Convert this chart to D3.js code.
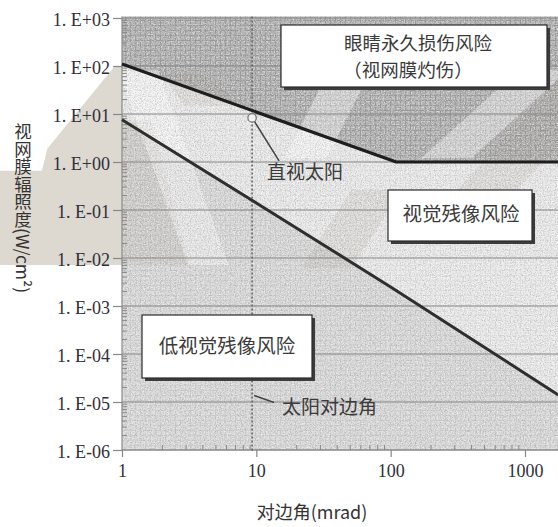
<!DOCTYPE html>
<html><head><meta charset="utf-8">
<script src="https://cdn.jsdelivr.net/npm/d3@7"></script>
<style>
html,body{margin:0;padding:0;background:#fff;}
svg{display:block;}
</style></head><body>
<svg id="chart" width="558" height="527"></svg>
<script>
// ---- axis ticks ----
const xTickValues = [1, 10, 100, 1000];
const xTickLabels = ["1", "10", "100", "1000"];
const yTickValues = [1e3, 1e2, 1e1, 1e0, 1e-1, 1e-2, 1e-3, 1e-4, 1e-5, 1e-6];
const yTickLabels = ["1. E+03", "1. E+02", "1. E+01", "1. E+00", "1. E-01",
                     "1. E-02", "1. E-03", "1. E-04", "1. E-05", "1. E-06"];

// ---- boundary curves: subtended angle (mrad) -> retinal irradiance (W/cm²) ----
const burnAngle = [1, 110, 1770];
const burnIrradiance = [110, 1, 1];
const afterimageAngle = [1, 10, 100, 1770];
const afterimageIrradiance = [7.6, 0.14, 0.0025, 1.4e-5];

// ---- the sun ----
const sunAngle = 9.3;
const sunIrradiance = 8.3;

// ---- region captions ----
const zoneTitles = ["眼睛永久损伤风险", "（视网膜灼伤）", "视觉残像风险", "低视觉残像风险"];
const noteTitles = ["直视太阳", "太阳对边角"];

const W = 558, H = 527;
const svg = d3.select("#chart");
const CJK = '"Noto Sans CJK SC","Noto Sans CJK JP",sans-serif';
const SERIF = '"Liberation Serif","DejaVu Serif",serif';

const x = d3.scaleLog().domain([1, 1000]).range([122, 525]);
const y = d3.scaleLog().domain([1e-6, 1e3]).range([450, 18]);
const xMin = 1, xMax = x.invert(W);
const yMin = 1e-6, yMax = 1e3;
const plotL = x(xMin), plotR = W, plotT = y(yMax) - 1.5, plotB = y(yMin);

const burn = burnAngle.map((a, i) => [a, burnIrradiance[i]]);
const after = afterimageAngle.map((a, i) => [a, afterimageIrradiance[i]]);
const P = d => [x(d[0]), y(d[1])];

// ---- defs: clip, textures ----
const defs = svg.append("defs");
defs.append("clipPath").attr("id", "plotClip")
  .append("rect").attr("x", plotL).attr("y", plotT).attr("width", plotR - plotL).attr("height", plotB - plotT);

const grid = defs.append("pattern").attr("id", "mesh").attr("width", 5).attr("height", 5)
  .attr("patternUnits", "userSpaceOnUse");
grid.append("path").attr("d", "M0 0.5H5M0.5 0V5").attr("stroke", "#7a7a7a").attr("stroke-width", 1).attr("fill", "none");

const fDark = defs.append("filter").attr("id", "grainDark").attr("x", 0).attr("y", 0).attr("width", 1).attr("height", 1);
fDark.append("feTurbulence").attr("type", "fractalNoise").attr("baseFrequency", 0.85).attr("numOctaves", 2).attr("seed", 4);
fDark.append("feColorMatrix").attr("type", "matrix")
  .attr("values", "0 0 0 0 0.25  0 0 0 0 0.25  0 0 0 0 0.25  0 0 0 -3 1.75");
const fLight = defs.append("filter").attr("id", "grainLight").attr("x", 0).attr("y", 0).attr("width", 1).attr("height", 1);
fLight.append("feTurbulence").attr("type", "fractalNoise").attr("baseFrequency", 0.7).attr("numOctaves", 2).attr("seed", 11);
fLight.append("feColorMatrix").attr("type", "matrix")
  .attr("values", "0 0 0 0 1  0 0 0 0 1  0 0 0 0 1  0 0 0 -3 1.7");

// ---- faint logo stamp behind the chart (fractions of the canvas) ----
const stampTan = [
  [[0.206, 0.125], [0.219, 0.125], [0.219, 0.503], [0, 0.503], [0, 0.324], [0.075, 0.324], [0.085, 0.282]]
];
const lineToPx = pts => pts.map(p => [p[0] * W, p[1] * H]);
svg.append("g").selectAll("path").data(stampTan).join("path")
  .attr("d", d => d3.line()(lineToPx(d)) + "Z").attr("fill", "#ddd8d0");

// ---- zones ----
const lineGen = d3.line().x(d => x(d[0])).y(d => y(d[1]));
const zones = svg.append("g").attr("clip-path", "url(#plotClip)");
const topZone = [[xMin, yMax * 2], [xMax, yMax * 2], ...burn.slice().reverse()];
const midZone = [...burn, ...after.slice().reverse()];
const lowZone = [...after, [xMax, yMin], [xMin, yMin]];
zones.append("path").attr("d", lineGen(topZone) + "Z").attr("fill", "#b3b3b3");
zones.append("path").attr("d", lineGen(midZone) + "Z").attr("fill", "#ececec");
zones.append("path").attr("d", lineGen(lowZone) + "Z").attr("fill", "#dadada");
zones.append("path").attr("d", lineGen(topZone) + "Z").attr("fill", "url(#mesh)").attr("opacity", 0.45);
zones.append("path").attr("d", lineGen(midZone) + "Z").attr("fill", "url(#mesh)").attr("opacity", 0.08);
zones.append("path").attr("d", lineGen(lowZone) + "Z").attr("fill", "url(#mesh)").attr("opacity", 0.12);

// stamp bands inside the plot (fractions of the canvas)
const stampShade = [
  [[0.219, 0.228], [0.27, 0.228], [0.34, 0.503], [0.219, 0.503]],
  [[0.29, 0.14], [0.36, 0.14], [0.44, 0.2], [0.33, 0.2]],
  [[0.54, 0.509], [0.63, 0.509], [0.72, 0.36], [0.63, 0.36]],
  [[0.75, 0.44], [0.85, 0.44], [1, 0.28], [1, 0.15]]
];
const stampLight = [
  [[0.212, 0.133], [0.283, 0.133], [0.41, 0.503], [0.337, 0.503]],
  [[0.51, 0.3], [0.585, 0.3], [0.665, 0.133], [0.59, 0.133]],
  [[0.755, 0.3], [0.845, 0.3], [1, 0.15], [1, 0.133], [0.93, 0.133]]
];
zones.append("g").selectAll("path").data(stampShade).join("path")
  .attr("d", d => d3.line()(lineToPx(d)) + "Z").attr("fill", "#9c8e7c").attr("opacity", 0.16);
zones.append("g").selectAll("path").data(stampLight).join("path")
  .attr("d", d => d3.line()(lineToPx(d)) + "Z").attr("fill", "#ffffff").attr("opacity", 0.42);

// grain
zones.append("rect").attr("x", plotL).attr("y", plotT).attr("width", plotR - plotL).attr("height", plotB - plotT)
  .attr("filter", "url(#grainDark)").attr("opacity", 0.35);
zones.append("rect").attr("x", plotL).attr("y", plotT).attr("width", plotR - plotL).attr("height", plotB - plotT)
  .attr("filter", "url(#grainLight)").attr("opacity", 0.5);

// ---- gridlines ----
svg.append("g").selectAll("line").data(yTickValues).join("line")
  .attr("x1", plotL).attr("x2", plotR).attr("y1", d => y(d)).attr("y2", d => y(d))
  .attr("stroke", "#858585").attr("stroke-width", 1.2);

// ---- axes ----
const yAxis = d3.axisLeft(y).tickValues(yTickValues).tickFormat((d, i) => yTickLabels[i]).tickSize(9).tickPadding(3);
const gy = svg.append("g").attr("transform", `translate(${plotL},0)`).call(yAxis);
gy.select(".domain").attr("stroke", "#8a8a8a").attr("stroke-width", 1.2).attr("d", `M0,${plotT}V${plotB}`);
gy.selectAll(".tick line").attr("stroke", "#888").attr("stroke-width", 1.2);
gy.selectAll(".tick text").attr("font-family", SERIF).attr("font-size", 18).attr("fill", "#2f2f3a")
  .attr("dy", "0.42em");

const yMinor = [];
for (let e = -6; e < 3; e++) for (let k = 2; k < 10; k++) yMinor.push(k * Math.pow(10, e));
svg.append("g").selectAll("line").data(yMinor).join("line")
  .attr("x1", plotL).attr("x2", plotL + 5).attr("y1", d => y(d)).attr("y2", d => y(d))
  .attr("stroke", "#8a8a8a").attr("stroke-width", 1);

const xAxis = d3.axisBottom(x).tickValues(xTickValues).tickFormat((d, i) => xTickLabels[i]).tickSize(7).tickPadding(7);
const gx = svg.append("g").attr("transform", `translate(0,${plotB})`).call(xAxis);
gx.select(".domain").attr("stroke", "#8a8a8a").attr("stroke-width", 1.2).attr("d", `M${plotL},0H${plotR}`);
gx.selectAll(".tick line").attr("stroke", "#888").attr("stroke-width", 1.2);
gx.selectAll(".tick text").attr("font-family", SERIF).attr("font-size", 18).attr("fill", "#2f2f3a");

const xMinor = [];
for (let e = 0; e < 4; e++) for (let k = 2; k < 10; k++) { const v = k * Math.pow(10, e); if (v < xMax) xMinor.push(v); }
svg.append("g").selectAll("line").data(xMinor).join("line")
  .attr("x1", d => x(d)).attr("x2", d => x(d)).attr("y1", plotB).attr("y2", plotB - 5)
  .attr("stroke", "#8a8a8a").attr("stroke-width", 1);

// ---- sun angle marker ----
svg.append("line").attr("x1", x(sunAngle)).attr("x2", x(sunAngle)).attr("y1", plotT).attr("y2", plotB + 2)
  .attr("stroke", "#5f5f5f").attr("stroke-width", 1.5).attr("stroke-dasharray", "2,2");

// ---- boundary curves ----
svg.append("path").attr("d", lineGen(burn)).attr("fill", "none").attr("stroke", "#1e1e1e").attr("stroke-width", 3.2)
  .attr("stroke-linejoin", "round");
svg.append("path").attr("d", lineGen(after)).attr("fill", "none").attr("stroke", "#2e2e2e").attr("stroke-width", 3)
  .attr("stroke-linejoin", "round");

// ---- direct-sun point and callouts ----
const [sx, sy] = P([sunAngle, sunIrradiance]);
svg.append("line").attr("x1", sx + 2).attr("y1", sy + 3).attr("x2", sx + 27).attr("y2", sy + 43)
  .attr("stroke", "#444").attr("stroke-width", 1.5);
svg.append("circle").attr("cx", sx).attr("cy", sy).attr("r", 4.2)
  .attr("fill", "#f2f2f2").attr("stroke", "#777").attr("stroke-width", 1.3);
svg.append("text").attr("x", sx + 15).attr("y", sy + 61).text(noteTitles[0])
  .attr("font-family", CJK).attr("font-size", 19).attr("fill", "#3a3a3a");

const ty = y(1.3e-5);
svg.append("line").attr("x1", x(sunAngle) + 2).attr("y1", ty - 1).attr("x2", x(sunAngle) + 22).attr("y2", ty + 6)
  .attr("stroke", "#444").attr("stroke-width", 1.5);
svg.append("text").attr("x", x(sunAngle) + 30).attr("y", ty + 17).text(noteTitles[1])
  .attr("font-family", CJK).attr("font-size", 19).attr("fill", "#3a3a3a");

// ---- captioned boxes ----
function box(x0, y0, w, h) {
  const g = svg.append("g");
  g.append("rect").attr("x", x0 + 3).attr("y", y0 + 3).attr("width", w).attr("height", h).attr("fill", "#3c3c3c");
  g.append("rect").attr("x", x0).attr("y", y0).attr("width", w).attr("height", h)
    .attr("fill", "#ffffff").attr("stroke", "#2a2a2a").attr("stroke-width", 1.2);
  return g;
}
const b1 = box(281, 25, 266, 62);
b1.append("text").attr("x", 418).attr("y", 50).attr("text-anchor", "middle").text(zoneTitles[0])
  .attr("font-family", CJK).attr("font-size", 18.5).attr("fill", "#3a3a3a");
b1.append("text").attr("x", 408).attr("y", 77).attr("text-anchor", "middle").text(zoneTitles[1])
  .attr("font-family", CJK).attr("font-size", 18.5).attr("fill", "#3a3a3a");
const b2 = box(388, 190, 144, 51);
b2.append("text").attr("x", 461).attr("y", 221).attr("text-anchor", "middle").text(zoneTitles[2])
  .attr("font-family", CJK).attr("font-size", 19.5).attr("fill", "#3a3a3a");
const b3 = box(142, 315, 170, 63);
b3.append("text").attr("x", 227).attr("y", 353).attr("text-anchor", "middle").text(zoneTitles[3])
  .attr("font-family", CJK).attr("font-size", 19.5).attr("fill", "#3a3a3a");

// ---- axis titles ----
svg.append("text").attr("x", 312).attr("y", 519).attr("text-anchor", "middle")
  .attr("font-family", CJK).attr("font-size", 18).attr("fill", "#333")
  .text("对边角(mrad)");
svg.append("text").attr("transform", "translate(23,123)")
  .attr("writing-mode", "vertical-rl").attr("text-orientation", "mixed")
  .attr("font-family", CJK).attr("font-size", 17.5).attr("fill", "#333")
  .text("视网膜辐照度(W/cm²)");
</script>
</body></html>
